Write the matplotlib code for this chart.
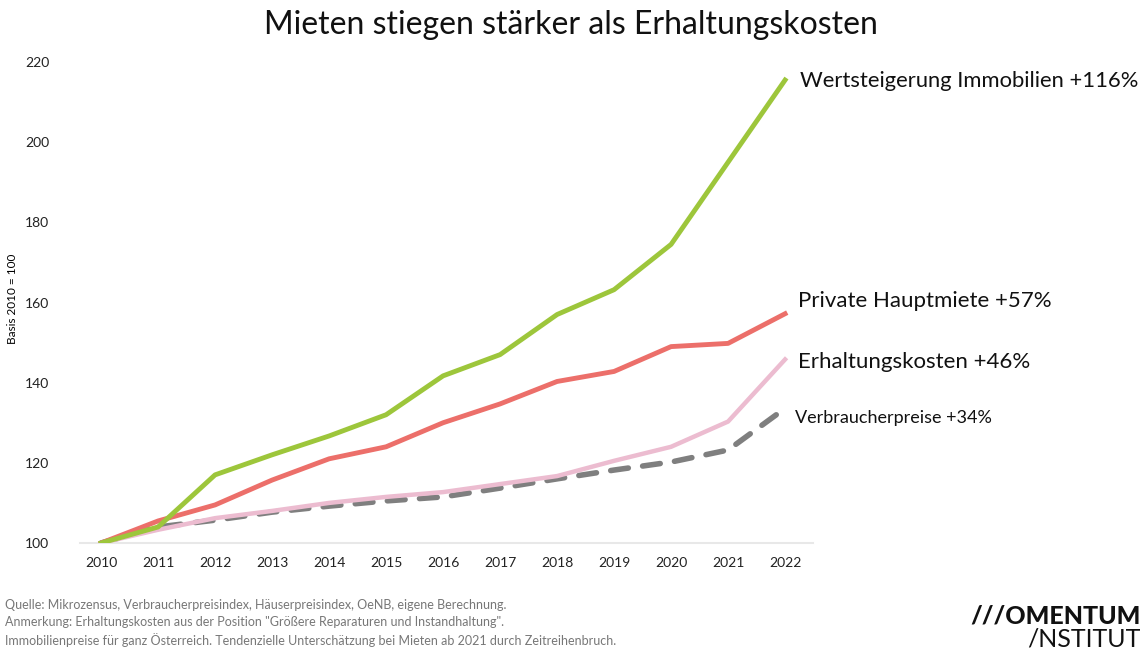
import matplotlib
matplotlib.use("Agg")
import matplotlib.pyplot as plt

years = list(range(2010, 2023))
immobilien = [100, 104, 117, 122, 126.7, 132, 141.7, 147, 157, 163.2, 174.5, 195, 215.5]
hauptmiete = [100, 105.5, 109.5, 115.7, 121, 124, 130, 134.7, 140.3, 142.8, 149, 149.8, 157.2]
erhaltung = [100, 103.3, 106.2, 108, 110, 111.5, 112.7, 114.7, 116.7, 120.5, 124, 130.3, 145.8]
verbraucher = [100, 104, 105.7, 107.7, 109.2, 110.5, 111.5, 113.7, 116, 118.2, 120.2, 123.2, 133.6]

labels = ["Wertsteigerung Immobilien +116%", "Private Hauptmiete +57%",
          "Erhaltungskosten +46%", "Verbraucherpreise +34%"]
yticks = [100, 120, 140, 160, 180, 200, 220]

title = "Mieten stiegen stärker als Erhaltungskosten"
ylabel = "Basis 2010 = 100"
notes = ["Quelle: Mikrozensus, Verbraucherpreisindex, Häuserpreisindex, OeNB, eigene Berechnung.",
         "Anmerkung: Erhaltungskosten aus der Position \"Größere Reparaturen und Instandhaltung\".",
         "Immobilienpreise für ganz Österreich. Tendenzielle Unterschätzung bei Mieten ab 2021 durch Zeitreihenbruch."]

plt.rcParams['font.family'] = ['Lato', 'DejaVu Sans']

fig = plt.figure(figsize=(11.46, 6.51), dpi=100)
ax = fig.add_axes([80/1146, 108/651, 733/1146, 489/651])

green = "#9dc63b"
red = "#ec6f6a"
pink = "#ecbcd0"
grey = "#7f7f7f"

ax.plot(years, verbraucher, color=grey, lw=4, dashes=(3.2, 2.6),
        dash_capstyle='round', zorder=2)
ax.plot(years, erhaltung, color=pink, lw=3.2, zorder=3)
ax.plot(years, hauptmiete, color=red, lw=3.5, zorder=4)
ax.plot(years, immobilien, color=green, lw=3.5, zorder=5)

ax.set_xlim(2009.63, 2022.49)
ax.set_ylim(100, 222)
ax.set_yticks(yticks)
ax.set_xticks(years)
ax.tick_params(axis='both', length=0, labelsize=10, colors="#222222")
ax.tick_params(axis='y', pad=22)
ax.tick_params(axis='x', pad=10)
for s in ['top', 'right', 'left']:
    ax.spines[s].set_visible(False)
ax.spines['bottom'].set_color("#e8e8e8")
ax.spines['bottom'].set_linewidth(1.5)
ax.set_ylabel(ylabel, fontsize=8.5, labelpad=4)
ax.yaxis.set_label_coords(-0.084, 0.5)

# end labels
ax.annotate(labels[0], xy=(years[-1], immobilien[-1]), xytext=(11, -0.5),
            textcoords='offset points', fontsize=15.8, va='center', ha='left', color="#111111")
ax.annotate(labels[1], xy=(years[-1], hauptmiete[-1]), xytext=(9, 9),
            textcoords='offset points', fontsize=16, va='center', ha='left', color="#111111")
ax.annotate(labels[2], xy=(years[-1], erhaltung[-1]), xytext=(9, -1.5),
            textcoords='offset points', fontsize=16, va='center', ha='left', color="#111111")
ax.annotate(labels[3], xy=(years[-1], verbraucher[-1]), xytext=(7.5, -7),
            textcoords='offset points', fontsize=13, va='center', ha='left', color="#111111")

fig.text(571/1146, 1 - 25/651, title, fontsize=23, ha='center', va='center', color="#111111")

for i, n in enumerate(notes):
    fig.text(5/1146, 1 - (605 + 17.5*i)/651, n, fontsize=9, color="#777777", ha='left', va='center')

fig.text(1141/1146, 1 - 616/651, "///OMENTUM", fontsize=18, fontweight='black', ha='right',
         va='center', color="#111111")
fig.text(1141/1146, 1 - 639/651, "/NSTITUT", fontsize=18, ha='right', va='center', color="#111111")

fig.savefig("out.png", dpi=100)
